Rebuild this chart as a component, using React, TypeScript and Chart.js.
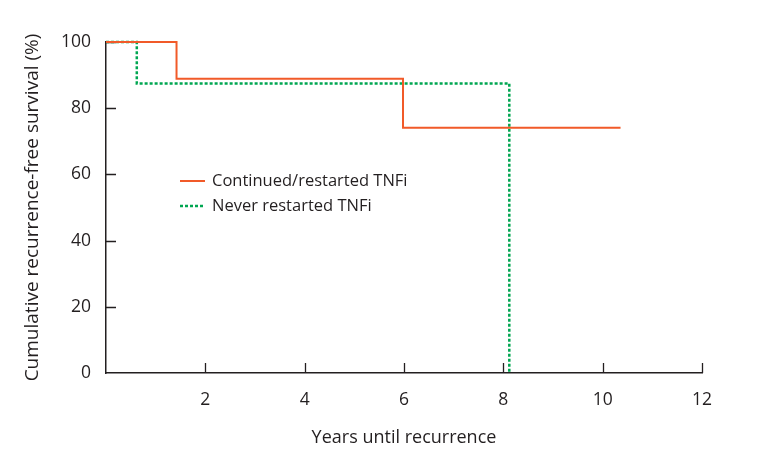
import React, { useEffect, useRef } from "react";
import { Chart, registerables } from "chart.js";

Chart.register(...registerables);

const continuedLabel = "Continued/restarted TNFi";
const neverLabel = "Never restarted TNFi";
const continuedYears = [0, 1.42, 5.98, 10.36];
const continuedSurvival = [100, 88.9, 74.1, 74.1];
const neverYears = [0, 0.62, 8.12];
const neverSurvival = [100, 87.5, 0];
const xTicks = [2, 4, 6, 8, 10, 12];
const yTicks = [0, 20, 40, 60, 80, 100];

const ORANGE = "#f15a29";
const GREEN = "#00a651";
const INK = "#231f20";
const FONT = "'Open Sans', 'Noto Sans', sans-serif";

export default function App() {
  const ref = useRef<HTMLCanvasElement | null>(null);

  useEffect(() => {
    if (!ref.current) return;

    const innerTicks = {
      id: "innerTicks",
      beforeDatasetsDraw(chart: any) {
        const ctx = chart.ctx;
        const xs = chart.scales.x;
        const ys = chart.scales.y;
        const area = chart.chartArea;
        ctx.save();
        ctx.strokeStyle = INK;
        ctx.lineWidth = 1.3;
        ctx.beginPath();
        for (const t of xTicks) {
          const px = Math.round(xs.getPixelForValue(t)) + 0.5;
          ctx.moveTo(px, area.bottom);
          ctx.lineTo(px, area.bottom - 10);
        }
        for (const t of yTicks) {
          if (t === 0) continue;
          const py = Math.round(ys.getPixelForValue(t)) + 0.5;
          ctx.moveTo(area.left, py);
          ctx.lineTo(area.left + 10, py);
        }
        ctx.stroke();
        ctx.restore();
      },
    };

    const insetLegend = {
      id: "insetLegend",
      afterDraw(chart: any) {
        const ctx = chart.ctx;
        const area = chart.chartArea;
        const items = [
          { label: continuedLabel, color: ORANGE, dash: [] as number[], w: 2 },
          { label: neverLabel, color: GREEN, dash: [3, 2], w: 2.5 },
        ];
        ctx.save();
        ctx.font = `16.5px ${FONT}`;
        ctx.textBaseline = "middle";
        ctx.fillStyle = INK;
        items.forEach((it, i) => {
          const y = area.top + 139 + i * 25;
          const x0 = area.left + 74;
          ctx.strokeStyle = it.color;
          ctx.lineWidth = it.w;
          ctx.setLineDash(it.dash);
          ctx.beginPath();
          ctx.moveTo(x0, y);
          ctx.lineTo(x0 + 25, y);
          ctx.stroke();
          ctx.setLineDash([]);
          ctx.fillText(it.label, x0 + 32, y);
        });
        ctx.restore();
      },
    };

    const chart = new Chart(ref.current, {
      type: "line",
      data: {
        datasets: [
          {
            label: continuedLabel,
            data: continuedYears.map((x, i) => ({ x, y: continuedSurvival[i] })),
            borderColor: ORANGE,
            borderWidth: 2,
            stepped: "before",
            pointRadius: 0,
            fill: false,
            clip: false as any,
            order: 0,
          },
          {
            label: neverLabel,
            data: neverYears.map((x, i) => ({ x, y: neverSurvival[i] })),
            borderColor: GREEN,
            borderWidth: 2.5,
            borderDash: [3, 2],
            stepped: "before",
            pointRadius: 0,
            fill: false,
            clip: false as any,
            order: 1,
          },
        ],
      },
      options: {
        animation: false,
        responsive: false,
        layout: { padding: { top: 42, right: 81, left: 0, bottom: 0 } },
        plugins: {
          legend: { display: false },
          tooltip: { enabled: false },
        },
        scales: {
          x: {
            type: "linear",
            min: 0,
            max: 12,
            afterBuildTicks: (scale: any) => {
              scale.ticks = xTicks.map((v) => ({ value: v }));
            },
            afterFit: (scale: any) => {
              scale.height = 100;
            },
            grid: { display: false, drawTicks: false },
            border: { display: true, color: INK, width: 1.5 },
            ticks: {
              color: INK,
              font: { family: FONT, size: 17.5 },
              padding: 17,
              maxRotation: 0,
            },
            title: {
              display: true,
              text: "Years until recurrence",
              color: INK,
              font: { family: FONT, size: 18 },
              padding: 24,
            },
          },
          y: {
            type: "linear",
            min: 0,
            max: 100,
            afterBuildTicks: (scale: any) => {
              scale.ticks = yTicks.map((v) => ({ value: v }));
            },
            afterFit: (scale: any) => {
              scale.width = 106;
            },
            grid: { display: false, drawTicks: false },
            border: { display: true, color: INK, width: 1.5 },
            ticks: {
              color: INK,
              font: { family: FONT, size: 17.5 },
              padding: 15,
            },
            title: {
              display: true,
              text: "Cumulative recurrence-free survival (%)",
              color: INK,
              font: { family: FONT, size: 19 },
              padding: 21,
            },
          },
        },
      },
      plugins: [innerTicks, insetLegend],
    } as any);

    return () => chart.destroy();
  }, []);

  return (
    <div style={{ position: "absolute", left: 0, top: 0, width: 783, height: 473, background: "#fff" }}>
      <canvas ref={ref} width={783} height={473} style={{ display: "block" }} />
    </div>
  );
}
